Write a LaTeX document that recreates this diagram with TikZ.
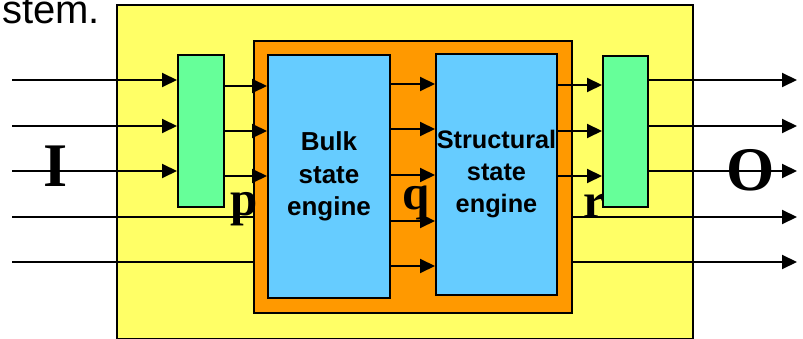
\documentclass[tikz,border=0pt]{standalone}
\usepackage{fontspec}
\setmainfont{Liberation Serif}
\setsansfont{Liberation Sans}
\usetikzlibrary{arrows.meta,calc}
\definecolor{sysYellow}{HTML}{FFFF66}
\definecolor{coreOrange}{HTML}{FF9900}
\definecolor{portGreen}{HTML}{66FF99}
\definecolor{engineBlue}{HTML}{66CCFF}

\begin{document}
\begin{tikzpicture}[x=1pt,y=-1pt,
  block/.style={draw=black,line width=2pt,inner sep=0pt,anchor=north west},
  engine/.style={block,fill=engineBlue,align=center,font=\sffamily\bfseries\fontsize{26}{32.5}\selectfont},
  port/.style={block,fill=portGreen},
  arr/.style={-{Triangle[length=15pt,width=14pt]},line width=2pt},
  wire/.style={line width=2pt},
  sig/.style={inner sep=0pt,anchor=base,font=\bfseries\fontsize{49}{49}\selectfont},
  io/.style={inner sep=0pt,anchor=base,font=\bfseries\fontsize{62}{62}\selectfont}
]
  \useasboundingbox (0,0) rectangle (803,339);
  \node[anchor=base west,inner sep=0pt,font=\sffamily\fontsize{40}{40}\selectfont] (caption) at (2,24) {stem.};
  % boxes
  \node[block,fill=sysYellow,minimum width=576pt,minimum height=334pt] (sys) at (116,4) {};
  \node[block,fill=coreOrange,minimum width=318pt,minimum height=272pt] (core) at (253,40) {};
  \node[engine,minimum width=122pt,minimum height=243pt] (bulk) at (267,54) {Bulk\\state\\engine};
  \node[engine,minimum width=121pt,minimum height=241pt,font=\sffamily\bfseries\fontsize{25.3}{32}\selectfont] (struct) at (435,53) {Structural\\state\\engine};
  \node[port,minimum width=46pt,minimum height=152pt] (inport) at (177,54) {};
  \node[port,minimum width=45pt,minimum height=151pt] (outport) at (602,55) {};
  % free ends
  \coordinate (in1) at (12,80);
  \coordinate (in2) at (12,126);
  \coordinate (in3) at (12,171);
  \coordinate (in4) at (12,217);
  \coordinate (in5) at (12,262);
  \coordinate (out1) at (797,80);
  \coordinate (out2) at (797,126);
  \coordinate (out3) at (797,171);
  \coordinate (out4) at (797,217);
  \coordinate (out5) at (797,262);
  % inputs
  \draw[arr] (in1) -- (inport.west |- in1);
  \draw[arr] (in2) -- (inport.west |- in2);
  \draw[arr] (in3) -- (inport.west |- in3);
  \draw[wire] (in4) -- (core.west |- in4);
  \draw[wire] (in5) -- (core.west |- in5);
  % input port to bulk engine
  \draw[arr] (inport.east |- 0,86) -- (bulk.west |- 0,86);
  \draw[arr] (inport.east |- 0,131) -- (bulk.west |- 0,131);
  \draw[arr] (inport.east |- 0,176) -- (bulk.west |- 0,176);
  % bulk to structural
  \draw[arr] (bulk.east |- 0,84) -- (struct.west |- 0,84);
  \draw[arr] (bulk.east |- 0,129) -- (struct.west |- 0,129);
  \draw[arr] (bulk.east |- 0,175) -- (struct.west |- 0,175);
  \draw[arr] (bulk.east |- 0,221) -- (struct.west |- 0,221);
  \draw[arr] (bulk.east |- 0,266) -- (struct.west |- 0,266);
  % structural to output port
  \draw[arr] (struct.east |- 0,85) -- (outport.west |- 0,85);
  \draw[arr] (struct.east |- 0,131) -- (outport.west |- 0,131);
  \draw[arr] (struct.east |- 0,176) -- (outport.west |- 0,176);
  % outputs
  \draw[arr] (outport.east |- out1) -- (out1);
  \draw[arr] (outport.east |- out2) -- (out2);
  \draw[arr] (outport.east |- out3) -- (out3);
  \draw[arr] (core.east |- out4) -- (out4);
  \draw[arr] (core.east |- out5) -- (out5);
  % signal labels
  \node[io] (lblI) at (56,187) {I};
  \node[io] (lblO) at (751,191) {O};
  \node[sig] (lblp) at (244,215) {p};
  \node[sig] (lblq) at (416,210) {q};
  \node[sig] (lblr) at (594,218) {r};
\end{tikzpicture}
\end{document}
